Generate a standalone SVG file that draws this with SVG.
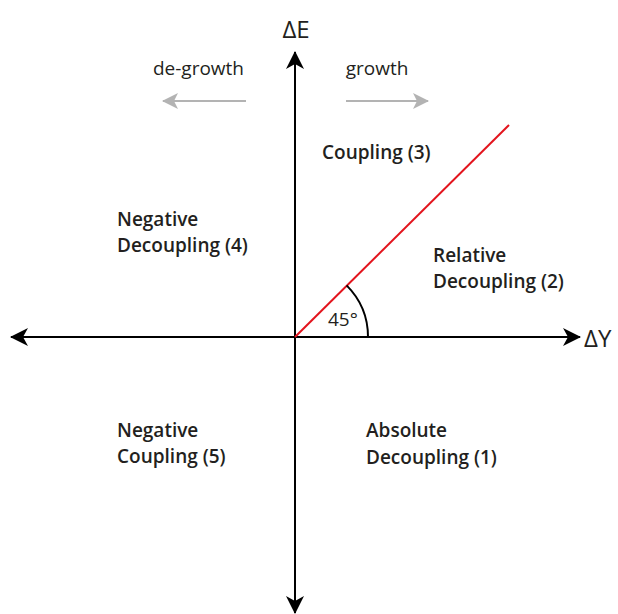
<svg xmlns="http://www.w3.org/2000/svg" width="618" height="614" viewBox="0 0 618 614">
<style>
.lbl{font-family:"Open Sans","Noto Sans",sans-serif;font-weight:600;font-size:19px;fill:#231f20}
.ax{font-family:"Open Sans","Noto Sans",sans-serif;font-size:24px;fill:#231f20}
.dir{font-family:"Open Sans","Noto Sans",sans-serif;font-size:19px;fill:#231f20}
.axis{stroke:#000;stroke-width:2;fill:none}
.garr{stroke:#b3b3b3;stroke-width:2;fill:none}
</style>
<defs>
<marker id="ah" viewBox="0 0 18 18" refX="17" refY="9" markerWidth="18" markerHeight="18" markerUnits="userSpaceOnUse" orient="auto">
<path d="M0,0 L18,9 L0,18 L5,9 Z" fill="#000"/>
</marker>
<marker id="gh" viewBox="0 0 16 16" refX="15" refY="8" markerWidth="16" markerHeight="16" markerUnits="userSpaceOnUse" orient="auto">
<path d="M0,0 L16,8 L0,16 L4,8 Z" fill="#b3b3b3"/>
</marker>
</defs>
<g id="connectors">
<line class="axis" x1="295" y1="337" x2="295" y2="52" marker-end="url(#ah)"/>
<line class="axis" x1="295" y1="337" x2="295" y2="613" marker-end="url(#ah)"/>
<line class="axis" x1="295" y1="337" x2="580" y2="337" marker-end="url(#ah)"/>
<line class="axis" x1="295" y1="337" x2="11" y2="337" marker-end="url(#ah)"/>
<line x1="295" y1="337" x2="509" y2="125" stroke="#e3141d" stroke-width="2"/>
<path class="axis" d="M368,337 A73,73 0 0 0 346.6,285.4"/>
<line class="garr" x1="246" y1="101" x2="163" y2="101" marker-end="url(#gh)"/>
<line class="garr" x1="346" y1="101" x2="428" y2="101" marker-end="url(#gh)"/>
</g>
<g id="axis-labels">
<text class="ax" x="296" y="38" text-anchor="middle">ΔE</text>
<text class="ax" x="584" y="347">ΔY</text>
<text class="dir" x="198.5" y="75" text-anchor="middle">de-growth</text>
<text class="dir" x="377" y="75" text-anchor="middle">growth</text>
<text class="dir" x="328" y="326">45°</text>
</g>
<g id="coupling3"><text class="lbl" x="322" y="159">Coupling (3)</text></g>
<g id="negdecoupling4"><text class="lbl" x="117" y="226">Negative</text><text class="lbl" x="117" y="252">Decoupling (4)</text></g>
<g id="reldecoupling2"><text class="lbl" x="433" y="262">Relative</text><text class="lbl" x="433" y="288">Decoupling (2)</text></g>
<g id="negcoupling5"><text class="lbl" x="117" y="437">Negative</text><text class="lbl" x="117" y="463">Coupling (5)</text></g>
<g id="absdecoupling1"><text class="lbl" x="366" y="437">Absolute</text><text class="lbl" x="366" y="464">Decoupling (1)</text></g>
</svg>
